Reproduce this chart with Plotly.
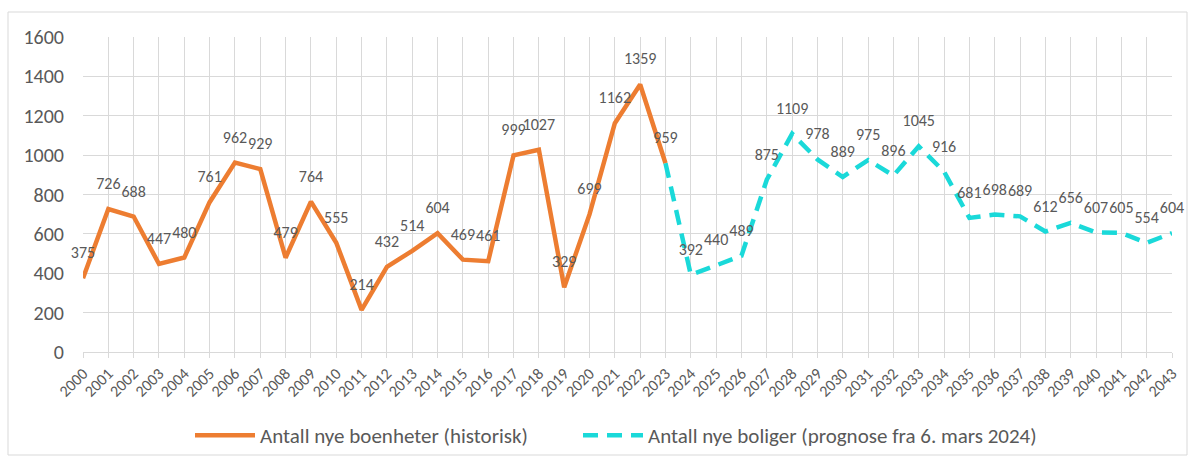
import plotly.graph_objects as go

years_hist = list(range(2000, 2024))
values_hist = [375, 726, 688, 447, 480, 761, 962, 929, 479, 764, 555, 214, 432, 514,
               604, 469, 461, 999, 1027, 329, 699, 1162, 1359, 959]

years_fc = list(range(2023, 2044))
values_fc = [959, 392, 440, 489, 875, 1109, 978, 889, 975, 896, 1045, 916, 681, 698,
             689, 612, 656, 607, 605, 554, 604]
labels_fc = [""] + [str(v) for v in values_fc[1:]]

name_hist = "Antall nye boenheter (historisk)"
name_fc = "Antall nye boliger (prognose fra 6. mars 2024)"

FONT = "Calibri, Carlito, Lato, 'Liberation Sans Narrow', sans-serif"
TXT = "#595959"
ORANGE = "#ED7D31"
CYAN = "#1AD9D9"

fig = go.Figure()
fig.add_trace(go.Scatter(
    x=years_hist, y=values_hist, name=name_hist, legend="legend",
    mode="lines+markers+text",
    line=dict(color=ORANGE, width=4.5),
    marker=dict(size=24, color="rgba(0,0,0,0)"),
    text=[str(v) for v in values_hist], textposition="top center",
    textfont=dict(family=FONT, size=16, color=TXT), cliponaxis=False,
))
fig.add_trace(go.Scatter(
    x=years_fc, y=values_fc, name=name_fc, legend="legend2",
    mode="lines+markers+text",
    line=dict(color=CYAN, width=4.5, dash="15px,9px"),
    marker=dict(size=24, color="rgba(0,0,0,0)"),
    text=labels_fc, textposition="top center",
    textfont=dict(family=FONT, size=16, color=TXT), cliponaxis=False,
))

L, R, T, B = 83, 23, 37, 107
W, H = 1195, 459
pw, ph = W - L - R, H - T - B

leg_common = dict(orientation="h", y=(H - B - 415) / ph, yanchor="top",
                  xanchor="left", bgcolor="rgba(0,0,0,0)", itemwidth=60,
                  font=dict(family=FONT, size=21, color=TXT))

fig.update_layout(
    width=W, height=H,
    margin=dict(l=L, r=R, t=T, b=B, autoexpand=False),
    paper_bgcolor="white", plot_bgcolor="white",
    font=dict(family=FONT, color=TXT),
    showlegend=True,
    legend=dict(x=(190 - L) / pw, **leg_common),
    legend2=dict(x=(578 - L) / pw, **leg_common),
    xaxis=dict(range=[2000, 2043], tickmode="array", tickvals=years_hist + years_fc[1:],
               tickangle=-45, tickfont=dict(family=FONT, size=16, color=TXT),
               showgrid=True, gridcolor="#D9D9D9", gridwidth=1, automargin=False,
               showline=True, linecolor="#D9D9D9", ticks="outside", tickcolor="#D9D9D9",
               ticklen=5, zeroline=False),
    yaxis=dict(range=[0, 1600], dtick=200, tickfont=dict(family=FONT, size=20, color=TXT),
               showgrid=True, gridcolor="#D9D9D9", gridwidth=1, zeroline=False,
               automargin=False, showline=False, ticks="", ticklabelstandoff=18),
    shapes=[dict(type="rect", xref="paper", yref="paper",
                 x0=(8 - L) / pw, x1=(1187 - L) / pw,
                 y0=(H - B - 455) / ph, y1=(H - B - 12) / ph,
                 line=dict(color="#D9D9D9", width=1), fillcolor="rgba(0,0,0,0)", layer="below")],
)

fig.write_html("out.html", config={"displayModeBar": False},
               post_script="document.body.style.margin='0';document.body.style.overflow='hidden';")
